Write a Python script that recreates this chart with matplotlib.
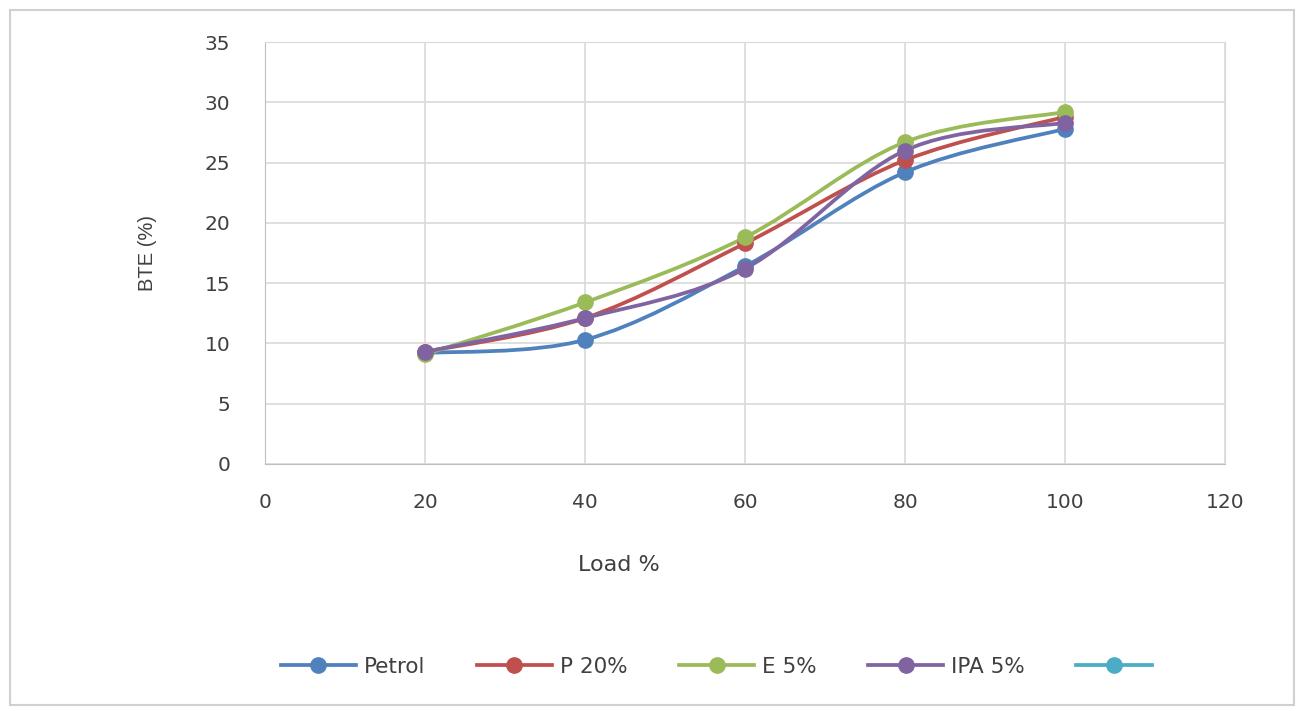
import matplotlib.pyplot as plt
import numpy as np
from matplotlib.path import Path
from matplotlib.patches import PathPatch, Rectangle
from matplotlib.lines import Line2D

load = [20, 40, 60, 80, 100]
petrol = [9.2, 10.3, 16.4, 24.2, 27.8]
p20 = [9.3, 12.1, 18.3, 25.2, 28.8]
e5 = [9.1, 13.4, 18.8, 26.7, 29.2]
ipa5 = [9.3, 12.1, 16.2, 26.0, 28.3]

names = ["Petrol", "P 20%", "E 5%", "IPA 5%"]
colors = ["#4F81BD", "#C0504D", "#9BBB59", "#8064A2"]
extra_color = "#4BACC6"


def smooth_path(x, y):
    # excel-like smoothed line: cubic bezier through the points
    p = np.column_stack([x, y]).astype(float)
    n = len(p)
    verts = [p[0]]
    codes = [Path.MOVETO]
    for i in range(n - 1):
        prev = p[i - 1] if i > 0 else p[i]
        nxt = p[i + 2] if i + 2 < n else p[i + 1]
        c1 = p[i] + (p[i + 1] - prev) / 6
        c2 = p[i + 1] - (nxt - p[i]) / 6
        verts += [c1, c2, p[i + 1]]
        codes += [Path.CURVE4] * 3
    return Path(verts, codes)


fig = plt.figure(figsize=(13.02, 7.11), dpi=100)
fig.patches.append(Rectangle((0.008, 0.008), 0.986, 0.978, transform=fig.transFigure,
                             fill=False, edgecolor="#D0D0D0", linewidth=1.5))
ax = fig.add_axes([0.2035, 0.3474, 0.7374, 0.5935])

handles = []
for ys, name, c in zip([petrol, p20, e5, ipa5], names, colors):
    ax.add_patch(PathPatch(smooth_path(load, ys), fill=False, edgecolor=c, linewidth=2.7))
    ax.plot(load, ys, linestyle="none", marker="o", markersize=11, color=c)
    handles.append(Line2D([], [], color=c, linewidth=2.7, marker="o", markersize=11))
handles.append(Line2D([], [], color=extra_color, linewidth=2.7, marker="o", markersize=11))

ax.set_xlim(0, 120)
ax.set_ylim(0, 35)
ax.set_xticks(range(0, 121, 20))
ax.set_yticks(range(0, 36, 5))
ax.grid(True, color="#D9D9D9", linewidth=1.2)
ax.set_axisbelow(True)
for s in ax.spines.values():
    s.set_color("#D9D9D9")
ax.spines["left"].set_color("#BFBFBF")
ax.spines["bottom"].set_color("#BFBFBF")
ax.tick_params(length=0, labelsize=14.5, labelcolor="#404040")
ax.tick_params(axis="x", pad=21)
ax.tick_params(axis="y", pad=25)
ax.set_xlabel("Load %", fontsize=16, color="#404040")
ax.xaxis.set_label_coords(0.369, -0.215)
ax.set_ylabel("BTE (%)", fontsize=14.5, color="#404040", family="Liberation Sans")
ax.yaxis.set_label_coords(-0.112, 0.5)

fig.legend(handles, names + [""], loc="center", bbox_to_anchor=(0.553, 0.062), ncol=5,
           frameon=False, prop={"size": 15.5},
           handlelength=3.5, columnspacing=2.4, handletextpad=0.35, labelcolor="#404040")

fig.savefig("out.png", dpi=100)
